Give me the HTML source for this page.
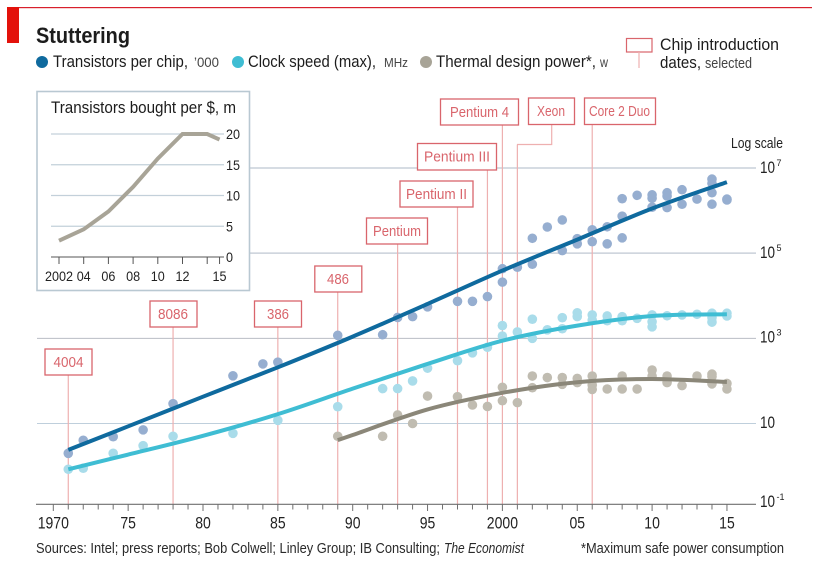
<!DOCTYPE html>
<html>
<head>
<meta charset="utf-8">
<title>Stuttering</title>
<style>
html,body{margin:0;padding:0;background:#fff;}
svg{display:block;font-family:"Liberation Sans",sans-serif;}
.box rect{fill:#fff;stroke:#d9656c;stroke-width:1.3;}
.box text{fill:#d9656c;font-size:14.5px;}
</style>
</head>
<body>
<svg id="chart" xmlns="http://www.w3.org/2000/svg" width="822" height="576" viewBox="0 0 822 576">
  <rect x="7" y="7" width="805" height="1.2" fill="#d8202c"/>
  <rect x="7" y="7" width="12" height="36" fill="#e3120b"/>
  <text x="36" y="43" font-size="22.5" font-weight="bold" fill="#1c1c1c" textLength="94" lengthAdjust="spacingAndGlyphs">Stuttering</text>

  <circle cx="42" cy="62" r="6" fill="#0f6a9e"/>
  <text x="53" y="67" font-size="17" fill="#1c1c1c" textLength="135" lengthAdjust="spacingAndGlyphs">Transistors per chip,</text>
  <text x="194" y="67" font-size="14" fill="#444" textLength="25" lengthAdjust="spacingAndGlyphs">’000</text>
  <circle cx="238" cy="62" r="6" fill="#3fbdd3"/>
  <text x="248" y="67" font-size="17" fill="#1c1c1c" textLength="128" lengthAdjust="spacingAndGlyphs">Clock speed (max),</text>
  <text x="384" y="67" font-size="13" fill="#444" textLength="24" lengthAdjust="spacingAndGlyphs">MHz</text>
  <circle cx="426" cy="62" r="6" fill="#a8a497"/>
  <text x="436" y="67" font-size="17" fill="#1c1c1c" textLength="160" lengthAdjust="spacingAndGlyphs">Thermal design power*,</text>
  <text x="600" y="67" font-size="14" fill="#444" textLength="8" lengthAdjust="spacingAndGlyphs">w</text>

  <rect x="626.5" y="38.5" width="25.5" height="13.5" fill="#fff" stroke="#d9656c" stroke-width="1.2"/>
  <line x1="639" y1="52" x2="639" y2="68" stroke="#eeb0b0" stroke-width="1.2"/>
  <text x="660" y="50" font-size="17" fill="#1c1c1c" textLength="119" lengthAdjust="spacingAndGlyphs">Chip introduction</text>
  <text x="660" y="68" font-size="17" fill="#1c1c1c" textLength="41" lengthAdjust="spacingAndGlyphs">dates,</text>
  <text x="705" y="68" font-size="14.5" fill="#444" textLength="47" lengthAdjust="spacingAndGlyphs">selected</text>

  <g id="grid"></g>
  <g id="chipLines"></g>
  <path d="M551.7 125V144.5H517" fill="none" stroke="#eeb0b0" stroke-width="1.2"/>
  <g id="axis"></g>
  <g id="points"></g>
  <g id="trends"></g>

  <g class="box"><rect x="45" y="349" width="47" height="26"/><text x="53.5" y="367" textLength="30" lengthAdjust="spacingAndGlyphs">4004</text></g>
  <g class="box"><rect x="150" y="301" width="47" height="26"/><text x="158" y="319" textLength="30" lengthAdjust="spacingAndGlyphs">8086</text></g>
  <g class="box"><rect x="254.500" y="301" width="47" height="26"/><text x="267" y="319" textLength="22" lengthAdjust="spacingAndGlyphs">386</text></g>
  <g class="box"><rect x="314.800" y="266" width="47" height="26"/><text x="327" y="284" textLength="22" lengthAdjust="spacingAndGlyphs">486</text></g>
  <g class="box"><rect x="366.500" y="218" width="61" height="26"/><text x="373" y="236" textLength="48" lengthAdjust="spacingAndGlyphs">Pentium</text></g>
  <g class="box"><rect x="400" y="181" width="73" height="26"/><text x="406" y="199" textLength="61" lengthAdjust="spacingAndGlyphs">Pentium II</text></g>
  <g class="box"><rect x="417.500" y="143.500" width="79" height="26.500"/><text x="424" y="161.500" textLength="66" lengthAdjust="spacingAndGlyphs">Pentium III</text></g>
  <g class="box"><rect x="440.500" y="99" width="78" height="26"/><text x="450" y="117" textLength="59" lengthAdjust="spacingAndGlyphs">Pentium 4</text></g>
  <g class="box"><rect x="528.500" y="98" width="46" height="26.500"/><text x="537" y="116" textLength="28" lengthAdjust="spacingAndGlyphs">Xeon</text></g>
  <g class="box"><rect x="584.500" y="98" width="71" height="26.500"/><text x="589" y="116" textLength="61" lengthAdjust="spacingAndGlyphs">Core 2 Duo</text></g>

  <text x="731" y="148" font-size="15" fill="#222" textLength="52" lengthAdjust="spacingAndGlyphs">Log scale</text>
  <g id="yLabels"></g>

  <g>
    <rect x="37" y="91.500" width="212.500" height="199" fill="#fff" stroke="#b9c8d2" stroke-width="1.6"/>
    <text x="51" y="113" font-size="16.5" fill="#1c1c1c" textLength="185" lengthAdjust="spacingAndGlyphs">Transistors bought per $, m</text>
    <g id="inset"></g>
  </g>

  <text x="36" y="553" font-size="14.5" fill="#2a2a2a" textLength="404" lengthAdjust="spacingAndGlyphs">Sources: Intel; press reports; Bob Colwell; Linley Group; IB Consulting;</text>
  <text x="444" y="553" font-size="14.5" font-style="italic" fill="#2a2a2a" textLength="80" lengthAdjust="spacingAndGlyphs">The Economist</text>
  <text x="581" y="553" font-size="14.5" fill="#2a2a2a" textLength="203" lengthAdjust="spacingAndGlyphs">*Maximum safe power consumption</text>
</svg>
<script>
// All series values are log10 of the plotted quantity.
const transistorYears = [1971,1972,1974,1976,1978,1982,1984,1985,1989,1992,1993,1994,1995,1997,1998,1999,2000,2000,2001,2002,2002,2003,2004,2004,2005,2005,2006,2006,2007,2007,2008,2008,2008,2009,2010,2010,2010,2011,2011,2011,2012,2012,2013,2014,2014,2014,2014,2015,2015];
const transistorLog10 = [0.30,0.605,0.69,0.85,1.465,2.12,2.40,2.44,3.07,3.085,3.49,3.51,3.74,3.87,3.87,3.98,4.635,4.32,4.67,5.35,4.74,5.615,5.78,5.06,5.34,5.22,5.55,5.27,5.62,5.22,6.28,5.87,5.36,6.36,6.37,6.29,6.08,6.42,6.34,6.07,6.49,6.15,6.27,6.74,6.64,6.42,6.15,6.27,6.25];
const clockYears = [1971,1972,1974,1976,1978,1982,1985,1989,1992,1993,1994,1995,1997,1998,1999,2000,2000,2001,2002,2002,2003,2004,2004,2005,2005,2006,2006,2007,2007,2008,2008,2009,2010,2010,2010,2011,2012,2013,2014,2014,2014,2015,2015];
const clockLog10 = [-0.075,-0.05,0.30,0.48,0.70,0.77,1.075,1.395,1.82,1.82,2.00,2.30,2.475,2.66,2.79,3.30,3.055,3.15,3.45,3.00,3.20,3.485,3.225,3.60,3.51,3.55,3.43,3.525,3.415,3.51,3.415,3.47,3.55,3.39,3.27,3.53,3.55,3.565,3.59,3.485,3.38,3.59,3.525];
const thermalYears = [1989,1992,1993,1994,1995,1997,1998,1999,2000,2000,2001,2002,2002,2003,2004,2004,2005,2005,2006,2006,2006,2007,2008,2008,2009,2010,2010,2011,2011,2011,2012,2013,2014,2014,2014,2015,2015];
const thermalLog10 = [0.70,0.70,1.20,1.00,1.645,1.63,1.435,1.40,1.85,1.535,1.49,2.115,1.84,2.08,2.08,1.92,2.06,1.96,2.115,1.90,1.80,1.81,2.115,1.81,1.81,2.255,2.115,2.115,2.02,1.96,1.89,2.115,2.16,2.10,1.93,1.94,1.81];

const transistorTrendYears = [1971,1975,1980,1985,1990,1995,2000,2005,2010,2015];
const transistorTrendLog10 = [0.38,0.934,1.63,2.32,3.04,3.81,4.59,5.32,6.05,6.67];
const clockTrendYears = [1971,1975,1980,1985,1990,1995,2000,2005,2010,2015];
const clockTrendLog10 = [-0.075,0.27,0.71,1.22,1.82,2.40,2.945,3.30,3.525,3.565];
const thermalTrendYears = [1989,1990,1995,2000,2005,2010,2015];
const thermalTrendLog10 = [0.61,0.73,1.33,1.72,1.97,2.045,1.975];

const chipYears = [1971,1978,1985,1989,1993,1997,1999,2000,2001,2006];
const chipLineTops = [375,327,327,292,244,207,170,125,144.5,124.5];

const xTickLabels = ["1970","75","80","85","90","95","2000","05","10","15"];
const xTickLabelYears = [1970,1975,1980,1985,1990,1995,2000,2005,2010,2015];
const gridExponents = [7,5,3,1];
const gridColors = ["#c9d0da","#c9d0da","#b9bdc4","#bfcfdc"];

const insetYears = [2002,2004,2006,2008,2010,2012,2014,2015];
const insetValues = [2.65,4.5,7.4,11.4,16,20,20,19.1];
const insetTickYears = [2002,2004,2006,2008,2010,2012,2014,2015];
const insetTickLabels = ["2002","04","06","08","10","12","","15"];
const insetYTicks = [0,5,10,15,20];

const NS = "http://www.w3.org/2000/svg";
const xScale = y => 53.3 + (y - 1970) * 14.97;
const yScale = e => 423.5 - (e - 1) * 42.58;
const insetX = y => 59 + (y - 2002) * 12.35;
const insetY = v => 257 - v * 6.15;
function el(tag, attrs, parent, text) {
  const n = document.createElementNS(NS, tag);
  for (const k in attrs) n.setAttribute(k, attrs[k]);
  if (text !== undefined) n.textContent = text;
  parent.appendChild(n);
  return n;
}
function smooth(px, py) {
  let d = "M" + px[0].toFixed(1) + " " + py[0].toFixed(1);
  for (let i = 0; i < px.length - 1; i++) {
    const a = Math.max(i - 1, 0), b = Math.min(i + 2, px.length - 1);
    const c1x = px[i] + (px[i + 1] - px[a]) / 6, c1y = py[i] + (py[i + 1] - py[a]) / 6;
    const c2x = px[i + 1] - (px[b] - px[i]) / 6, c2y = py[i + 1] - (py[b] - py[i]) / 6;
    d += "C" + c1x.toFixed(1) + " " + c1y.toFixed(1) + " " + c2x.toFixed(1) + " " + c2y.toFixed(1) + " " + px[i + 1].toFixed(1) + " " + py[i + 1].toFixed(1);
  }
  return d;
}

const grid = document.getElementById("grid");
gridExponents.forEach((e, i) => {
  const l = el("line", {x1: 37, x2: 756, y1: yScale(e), y2: yScale(e), stroke: gridColors[i], "stroke-width": i < 2 ? 1.5 : 1}, grid);
  
  
});

const chipLines = document.getElementById("chipLines");
chipYears.forEach((y, i) => {
  const l = el("line", {x1: xScale(y), x2: xScale(y), y1: chipLineTops[i], y2: 504, stroke: "#eeb0b0", "stroke-width": 1.2}, chipLines);
  
  
});

const axis = document.getElementById("axis");
const baseLine = el("line", {x1: 36, x2: 756, y1: 504.3, y2: 504.3, stroke: "#6f6f6f", "stroke-width": 1.2}, axis);


for (let y = 1970; y <= 2015; y++) {
  const t = el("line", {x1: xScale(y), x2: xScale(y), y1: 504.3, y2: (y % 5 === 0) ? 511 : 509.5, stroke: "#6f6f6f", "stroke-width": 1}, axis);
  
  
}
xTickLabels.forEach((s, i) => {
  const t = el("text", {x: xScale(xTickLabelYears[i]), y: 528.3, "text-anchor": "middle", "font-size": 16.5, fill: "#222", textLength: s.length * 7.8, lengthAdjust: "spacingAndGlyphs"}, axis, s);
  
  
});

const points = document.getElementById("points");
function dots(years, vals, color, name) {
  years.forEach((y, i) => {
    const c = el("circle", {cx: xScale(y), cy: yScale(vals[i]), r: 4.8, fill: color}, points);
    
    
  });
}
dots(thermalYears, thermalLog10, "#c0bcb1", "thermal-point");
dots(clockYears, clockLog10, "#a9dcea", "clock-point");
dots(transistorYears, transistorLog10, "#96aed0", "transistor-point");

const trends = document.getElementById("trends");
function trend(years, vals, color, name) {
  const p = el("path", {d: smooth(years.map(xScale), vals.map(yScale)), fill: "none", stroke: color, "stroke-width": 4}, trends);
  
  
}
trend(thermalTrendYears, thermalTrendLog10, "#8b8779", "thermal-trend");
trend(clockTrendYears, clockTrendLog10, "#3fbdd3", "clock-trend");
trend(transistorTrendYears, transistorTrendLog10, "#0f6a9e", "transistor-trend");

const yLabels = document.getElementById("yLabels");
const yLabelExponents = [7,5,3,1,-1];
const yLabelTexts = ["7","5","3","","-1"];
const yLabelBaselines = [173,258,342.5,428,507];
yLabelExponents.forEach((e, i) => {
  const t = el("text", {x: 760, y: yLabelBaselines[i], "font-size": 16.5, fill: "#222", textLength: 15, lengthAdjust: "spacingAndGlyphs"}, yLabels, "10");
  
  
  if (yLabelTexts[i]) {
    const s = el("text", {x: 776.5, y: yLabelBaselines[i] - 7, "font-size": 9, fill: "#222"}, yLabels, yLabelTexts[i]);
    
    
  }
});

const inset = document.getElementById("inset");
insetYTicks.forEach(v => {
  const gl = el("line", {x1: 51, x2: 224, y1: insetY(v), y2: insetY(v), stroke: v === 0 ? "#555" : "#c3d0da", "stroke-width": v === 0 ? 1 : 1.2}, inset);
  
  
  const label = String(v);
  const t = el("text", {x: 226, y: insetY(v) + 5, "font-size": 14, fill: "#222", textLength: label.length * 7, lengthAdjust: "spacingAndGlyphs"}, inset, label);
  
  
});
insetTickYears.forEach((y, i) => {
  const tk = el("line", {x1: insetX(y), x2: insetX(y), y1: 257, y2: 264, stroke: "#555", "stroke-width": 1}, inset);
  
  
  if (insetTickLabels[i]) {
    const t = el("text", {x: insetX(y), y: 281, "text-anchor": "middle", "font-size": 14, fill: "#222", textLength: insetTickLabels[i].length * 7, lengthAdjust: "spacingAndGlyphs"}, inset, insetTickLabels[i]);
    
    
  }
});
const insetPts = insetYears.map((y, i) => insetX(y) + " " + insetY(insetValues[i])).join("L");
const insetLine = el("path", {d: "M" + insetPts, fill: "none", stroke: "#a8a497", "stroke-width": 4}, inset);


</script>
</body>
</html>
